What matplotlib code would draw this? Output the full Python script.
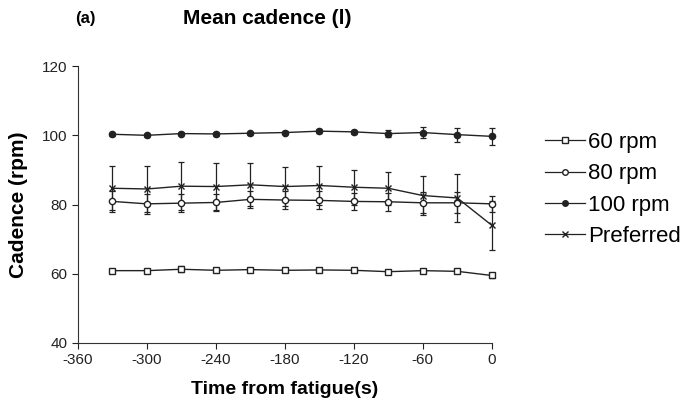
import matplotlib.pyplot as plt
from matplotlib.lines import Line2D

plt.rcParams['font.family'] = ['Liberation Sans', 'DejaVu Sans']
plt.rcParams['axes.unicode_minus'] = False

# time points (s before fatigue)
time = [-330, -300, -270, -240, -210, -180, -150, -120, -90, -60, -30, 0]

# mean cadence per condition (rpm)
rpm60 = [60.9, 60.9, 61.3, 61.0, 61.2, 61.0, 61.1, 61.0, 60.6, 60.9, 60.7, 59.5]
rpm80 = [80.9, 80.2, 80.4, 80.6, 81.5, 81.3, 81.2, 80.9, 80.8, 80.5, 80.5, 80.2]
rpm100 = [100.3, 100.0, 100.5, 100.4, 100.6, 100.8, 101.2, 101.0, 100.5, 100.8, 100.2, 99.7]
preferred = [84.7, 84.5, 85.3, 85.2, 85.7, 85.2, 85.5, 85.0, 84.7, 82.6, 81.9, 74.0]

# error bars (sd)
err60 = [0.5, 0.5, 0.8, 0.5, 0.5, 0.5, 0.5, 0.5, 0.5, 0.5, 0.6, 0.6]
err80 = [3.0, 2.8, 2.6, 2.5, 2.5, 2.5, 2.6, 2.5, 2.6, 3.0, 3.0, 2.3]
err100 = [0.5, 0.5, 0.5, 0.5, 0.5, 0.5, 0.5, 0.5, 1.0, 1.6, 2.0, 2.5]
err_pref = [6.4, 6.6, 7.0, 6.8, 6.2, 5.7, 5.5, 5.0, 4.7, 5.6, 7.0, 7.0]

labels = ['60 rpm', '80 rpm', '100 rpm', 'Preferred']
markers = ['s', 'o', 'o', 'x']
fills = ['white', 'white', '#222222', '#222222']

fig = plt.figure(figsize=(6.92, 4.17), dpi=100)
ax = fig.add_axes([0.1127, 0.1775, 0.598, 0.664])

ink = '#222222'
series = [(rpm60, err60), (rpm80, err80), (rpm100, err100), (preferred, err_pref)]
handles = []
for (vals, err), lab, mk, fc in zip(series, labels, markers, fills):
    cont = ax.errorbar(time, vals, yerr=err, marker=mk, mfc=fc, mec=ink, color=ink,
                       lw=1.0, elinewidth=0.9, capsize=2.5, capthick=0.9, ms=4.5)
    cont[0].set_clip_on(False)
    for art in list(cont[1]) + list(cont[2]):
        art.set_clip_on(False)
    handles.append(Line2D([], [], color=ink, lw=0.9, marker=mk, mfc=fc, mec=ink, ms=4))

ax.set_xlim(-360, 0)
ax.set_ylim(40, 120)
ax.set_xticks(range(-360, 1, 60))
ax.set_yticks(range(40, 121, 20))
ax.spines['top'].set_visible(False)
ax.spines['right'].set_visible(False)
ax.spines['left'].set_color('#333333')
ax.spines['bottom'].set_color('#333333')
ax.tick_params(direction='out', length=4, labelsize=11, colors='#222222')

ax.set_xlabel('Time from fatigue(s)', fontsize=14, fontweight='bold', labelpad=10)
ax.set_ylabel('Cadence (rpm)', fontsize=15, fontweight='bold', labelpad=10)

fig.text(0.265, 0.955, 'Mean cadence (l)', fontsize=15, fontweight='bold', va='center')
fig.text(0.108, 0.955, '(a)', fontsize=12, fontweight='bold', va='center')

fig.legend(handles, labels, loc='upper left', bbox_to_anchor=(0.7876, 0.683),
           bbox_transform=fig.transFigure, frameon=False, fontsize=16,
           handlelength=1.8, handletextpad=0.15, labelspacing=0.46,
           borderpad=0, borderaxespad=0)

fig.savefig('out.png', dpi=100)
